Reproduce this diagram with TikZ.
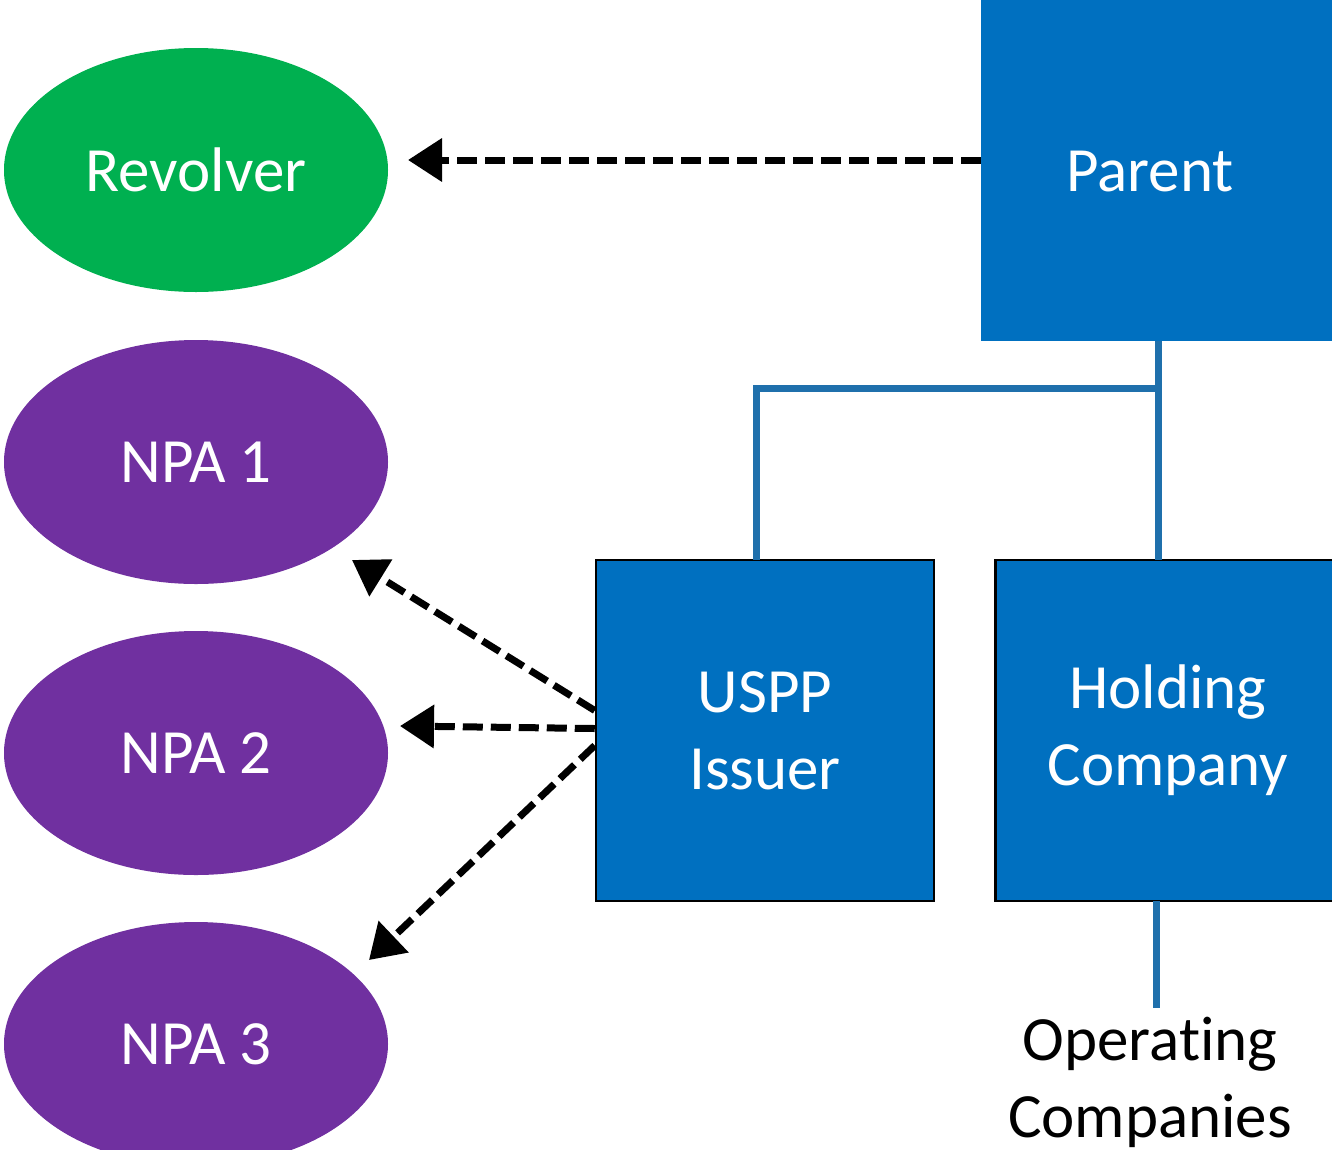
\documentclass[tikz,border=0pt]{standalone}
\usepackage{fontspec}
\setmainfont{Carlito}[RawFeature={-liga;-clig;-calt;-dlig}]
\usetikzlibrary{arrows.meta,shapes.geometric,calc}
\definecolor{cgreen}{HTML}{00B050}
\definecolor{cpurple}{HTML}{7030A0}
\definecolor{cblue}{HTML}{0070C0}
\definecolor{cline}{HTML}{1F70AC}
\tikzset{
  oval/.style={ellipse, minimum width=384pt, minimum height=244pt, inner sep=0pt, text=white, font=\fontsize{63}{77}\selectfont},
  ovalgreen/.style={oval, fill=cgreen},
  ovalpurple/.style={oval, fill=cpurple},
  bluebox/.style={rectangle, fill=cblue, inner sep=0pt, text=white, align=center, font=\fontsize{63}{77}\selectfont},
  treeline/.style={draw=cline, line width=7pt},
  dasharrow/.style={draw=black, line width=7pt, dash pattern=on 20pt off 8pt, -{Triangle[length=34pt,width=42pt]}},
}
\begin{document}
\begin{tikzpicture}[x=1pt,y=-1pt]
\useasboundingbox (0,0) rectangle (1332,1149);
\clip (0,0) rectangle (1332,1149);
\node[ovalgreen] (revolver) at (196,170) {Revolver};
\node[ovalpurple] (npa1) at (196,462) {NPA 1};
\node[ovalpurple] (npa2) at (196,753) {NPA 2};
\node[ovalpurple] (npa3) at (196,1044) {NPA 3};
\node[bluebox, minimum width=360pt, minimum height=351pt] (parent) at (1161,165) {};
\node[text=white, font=\fontsize{63}{77}\selectfont] (parentlbl) at (1150,172) {Parent};
\node[bluebox, draw=black, line width=2.5pt, minimum width=338pt, minimum height=341pt] (uspp) at (765,730.5) {USPP\\Issuer};
\node[bluebox, draw=black, line width=2.5pt, minimum width=345pt, minimum height=341pt] (holding) at (1168,730.5) {Holding\\Company};
\node[align=center, font=\fontsize{63}{77}\selectfont, inner sep=0pt] (opco) at (1150,1082) {Operating\\Companies};
% tree connectors
\coordinate (junc) at (1158,388);
\draw[treeline] (1158,341) -- (1158,560);
\draw[treeline] (junc) -| (756,560);
\draw[treeline] (1156,901) -- (1156,1008);
% dashed arrows
\coordinate (revtip) at (408,160);
\coordinate (t1) at (352,560);
\coordinate (t2) at (400,726);
\coordinate (t3) at (369,960);
\draw[dasharrow] (parent.west |- revtip) -- (revtip);
\draw[dasharrow] ($(uspp.west)+(0,-20)$) -- (t1);
\draw[dasharrow] ($(uspp.west)+(0,-2)$) -- (t2);
\draw[dasharrow] ($(uspp.west)+(0,15)$) -- (t3);
\end{tikzpicture}
\end{document}
